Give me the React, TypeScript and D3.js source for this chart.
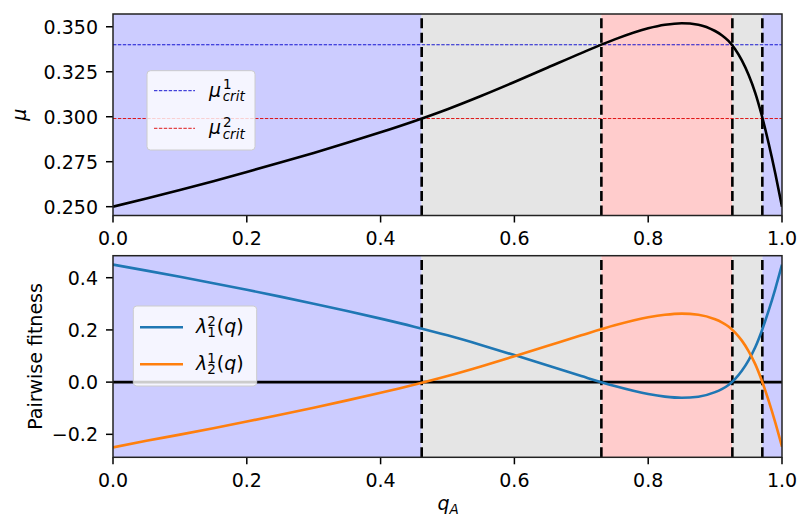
import React from "react";
import * as d3 from "d3";

// ---- data ----
const qs = [0, 0.05, 0.1, 0.15, 0.2, 0.25, 0.3, 0.35, 0.4, 0.45, 0.5, 0.55, 0.6, 0.65, 0.7, 0.75, 0.8, 0.825, 0.85, 0.875, 0.9, 0.91, 0.92, 0.93, 0.94, 0.95, 0.96, 0.97, 0.98, 0.99, 1.0];
const muValues = [0.25, 0.25456, 0.25928, 0.26418, 0.26928, 0.27451, 0.2799, 0.28552, 0.29134, 0.29751, 0.30418, 0.31152, 0.31931, 0.32735, 0.33538, 0.343, 0.34914, 0.3511, 0.35199, 0.35117, 0.34765, 0.34533, 0.34215, 0.3375, 0.3313, 0.3233, 0.3133, 0.3004, 0.2853, 0.2685, 0.25];
const lambda12 = [0.45, 0.4272, 0.4036, 0.3791, 0.3536, 0.3275, 0.3005, 0.2724, 0.2433, 0.2125, 0.1791, 0.1424, 0.1035, 0.0633, 0.0231, -0.015, -0.0457, -0.0555, -0.06, -0.0559, -0.0383, -0.0267, -0.0108, 0.0125, 0.0435, 0.0835, 0.1335, 0.198, 0.2735, 0.3575, 0.45];
const lambda21 = [-0.25, -0.2247, -0.2011, -0.1766, -0.1511, -0.125, -0.098, -0.0699, -0.0408, -0.01, 0.0234, 0.0601, 0.0991, 0.1393, 0.1794, 0.2175, 0.2482, 0.258, 0.2625, 0.2584, 0.2408, 0.2292, 0.2133, 0.19, 0.159, 0.119, 0.069, 0.0045, -0.071, -0.155, -0.2475];
const boundaries = [0.4614, 0.73, 0.9258, 0.9706];
const regionEdges = [0, 0.4614, 0.73, 0.9258, 0.9706, 1];
const regionColors = ["#ccccff", "#e5e5e5", "#ffcccc", "#e5e5e5", "#ccccff"];
const muCrit = [0.34, 0.299];
const muCritColors = ["#0000cc", "#dd0000"];
const xTicks = [0, 0.2, 0.4, 0.6, 0.8, 1.0];
const topYTicks = [0.25, 0.275, 0.3, 0.325, 0.35];
const bottomYTicks = [-0.2, 0, 0.2, 0.4];
const seriesColors = ["#1f77b4", "#ff7f0e"];

const FONT = "DejaVu Sans";
const FS = 19;
const SFS = 13.5;

const L = 113, R = 782;
const topY0 = 14, topY1 = 215.5;
const botY0 = 255.7, botY1 = 457.3;

const x = d3.scaleLinear().domain([0, 1]).range([L, R]);
const yTop = d3.scaleLinear().domain([0.2451, 0.3571]).range([topY1, topY0]);
const yBot = d3.scaleLinear().domain([-0.288, 0.4843]).range([botY1, botY0]);

const fmt1 = d3.format(".1f");
const fmt3 = d3.format(".3f");

function Panel({ y, y0, y1, id, yTicks, yFmt }: any) {
  return (
    <g>
      <defs>
        <clipPath id={id}>
          <rect x={L} y={y0} width={R - L} height={y1 - y0} />
        </clipPath>
      </defs>
      <g clipPath={`url(#${id})`}>
        {regionColors.map((c, i) => (
          <rect key={i} x={x(regionEdges[i])} y={y0} width={x(regionEdges[i + 1]) - x(regionEdges[i])} height={y1 - y0} fill={c} />
        ))}
      </g>
      {xTicks.map((t) => (
        <g key={t}>
          <line x1={x(t)} x2={x(t)} y1={y1} y2={y1 + 7} stroke="#000" strokeWidth={1.5} />
          <text x={x(t)} y={y1 + 29.5} textAnchor="middle" fontFamily={FONT} fontSize={FS}>{fmt1(t)}</text>
        </g>
      ))}
      {yTicks.map((t: number) => (
        <g key={t}>
          <line x1={L - 7} x2={L} y1={y(t)} y2={y(t)} stroke="#000" strokeWidth={1.5} />
          <text x={L - 15} y={y(t)} dy="0.36em" textAnchor="end" fontFamily={FONT} fontSize={FS}>{yFmt(t)}</text>
        </g>
      ))}
    </g>
  );
}

function Spines({ y0, y1 }: any) {
  return <rect x={L} y={y0} width={R - L} height={y1 - y0} fill="none" stroke="#222" strokeWidth={1.5} />;
}

function VLines({ y0, y1 }: any) {
  return (
    <g>
      {boundaries.map((b) => (
        <line key={b} x1={x(b)} x2={x(b)} y1={y1} y2={y0} stroke="#000" strokeWidth={2.6} strokeDasharray="10,4.4" />
      ))}
    </g>
  );
}

export default function App() {
  const idx = qs.map((_, i) => i);
  const muLine = d3.line<number>().x((i) => x(qs[i])).y((i) => yTop(muValues[i])).curve(d3.curveMonotoneX);
  const l12Line = d3.line<number>().x((i) => x(qs[i])).y((i) => yBot(lambda12[i])).curve(d3.curveMonotoneX);
  const l21Line = d3.line<number>().x((i) => x(qs[i])).y((i) => yBot(lambda21[i])).curve(d3.curveMonotoneX);

  return (
    <svg width={812} height={532} style={{ position: "absolute", left: 0, top: 0, background: "#fff" }}>
      <rect x={0} y={0} width={812} height={532} fill="#fff" />
      {/* top panel */}
      <Panel y={yTop} y0={topY0} y1={topY1} id="clipTop" yTicks={topYTicks} yFmt={fmt3} />
      <g clipPath="url(#clipTop)">
        <VLines y0={topY0} y1={topY1} />
        {muCrit.map((m, i) => (
          <line key={i} x1={L} x2={R} y1={yTop(m)} y2={yTop(m)} stroke={muCritColors[i]} strokeWidth={0.9} strokeDasharray="3.4,1.5" />
        ))}
        <path d={muLine(idx) || ""} fill="none" stroke="#000" strokeWidth={2.6} />
      </g>
      <Spines y0={topY0} y1={topY1} />
      <text transform={`translate(26,${(topY0 + topY1) / 2}) rotate(-90)`} textAnchor="middle" fontFamily={FONT} fontSize={FS} fontStyle="italic">μ</text>

      {/* top legend */}
      <rect x={147} y={70.7} width={108} height={79.3} rx={3.5} fill="#ffffff" fillOpacity={0.8} stroke="#cccccc" strokeWidth={1} />
      {muCrit.map((m, i) => {
        const cy = [90.7, 128.3][i];
        return (
          <g key={i}>
            <line x1={154} x2={195} y1={cy} y2={cy} stroke={muCritColors[i]} strokeWidth={0.9} strokeDasharray="3.4,1.5" />
            <text x={209} y={cy + 6} fontFamily={FONT} fontSize={FS}>
              <tspan fontStyle="italic">μ</tspan>
              <tspan dx={2} dy={-7.5} fontSize={SFS}>{i + 1}</tspan>
              <tspan dx={-9} dy={12} fontSize={SFS} fontStyle="italic">crit</tspan>
            </text>
          </g>
        );
      })}

      {/* bottom panel */}
      <Panel y={yBot} y0={botY0} y1={botY1} id="clipBot" yTicks={bottomYTicks} yFmt={fmt1} />
      <g clipPath="url(#clipBot)">
        <VLines y0={botY0} y1={botY1} />
        <line x1={L} x2={R} y1={yBot(0)} y2={yBot(0)} stroke="#000" strokeWidth={2.6} />
        <path d={l12Line(idx) || ""} fill="none" stroke={seriesColors[0]} strokeWidth={2.6} />
        <path d={l21Line(idx) || ""} fill="none" stroke={seriesColors[1]} strokeWidth={2.6} />
      </g>
      <Spines y0={botY0} y1={botY1} />
      <text transform={`translate(41.5,${(botY0 + botY1) / 2}) rotate(-90)`} textAnchor="middle" fontFamily={FONT} fontSize={FS}>Pairwise fitness</text>
      <text x={(L + R) / 2 - 10} y={510} fontFamily={FONT} fontSize={FS} fontStyle="italic">
        q<tspan dy={4} fontSize={SFS}>A</tspan>
      </text>

      {/* bottom legend */}
      <rect x={133.3} y={306} width={123.4} height={80} rx={3.5} fill="#ffffff" fillOpacity={0.8} stroke="#cccccc" strokeWidth={1} />
      {[0, 1].map((i) => {
        const cy = [327.3, 364.3][i];
        const sup = ["2", "1"][i];
        const sub = ["1", "2"][i];
        return (
          <g key={i}>
            <line x1={140} x2={183} y1={cy} y2={cy} stroke={seriesColors[i]} strokeWidth={2.6} />
            <text x={196} y={cy + 6} fontFamily={FONT} fontSize={FS}>
              <tspan fontStyle="italic">λ</tspan>
              <tspan dx={0} dy={-7.5} fontSize={SFS}>{sup}</tspan>
              <tspan dx={-8.6} dy={11.5} fontSize={SFS}>{sub}</tspan>
              <tspan dx={1} dy={-4} >(</tspan>
              <tspan fontStyle="italic">q</tspan>
              <tspan>)</tspan>
            </text>
          </g>
        );
      })}
    </svg>
  );
}
